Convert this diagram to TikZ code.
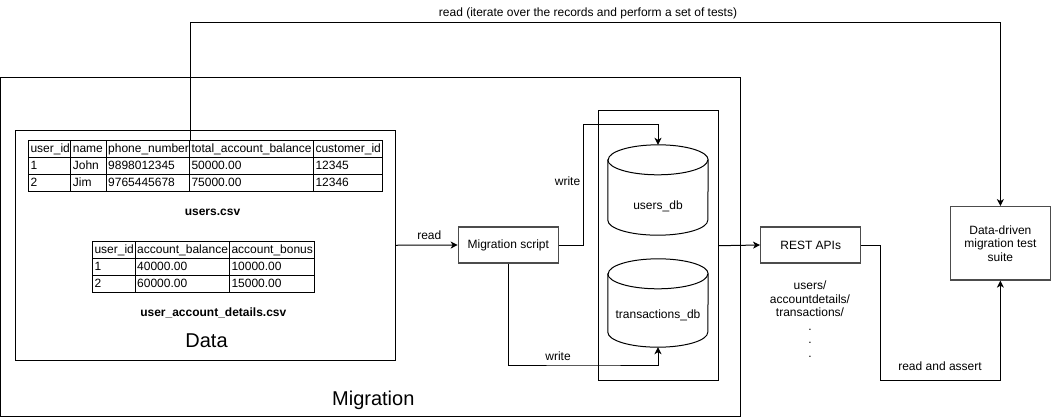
\documentclass[tikz,border=0pt]{standalone}
\usepackage{fontspec}
\setmainfont{Liberation Sans}
\usetikzlibrary{arrows.meta}
\newcommand\drawcyl[1]{%
  \draw[line width=1pt, fill=white] ([yshift=-15pt]#1.north west) -- ([yshift=15pt]#1.south west)
    arc[start angle=180,end angle=360,x radius=50pt,y radius=15pt]
    -- ([yshift=-15pt]#1.north east)
    arc[start angle=0,end angle=180,x radius=50pt,y radius=15pt] -- cycle;
  \draw[line width=1pt] ([yshift=-15pt]#1.north west)
    arc[start angle=180,end angle=360,x radius=50pt,y radius=15pt];}
\begin{document}
\begin{tikzpicture}[x=1pt,y=-1pt,
  txt/.style={inner sep=0, text height=8.6pt, text depth=0pt, font=\fontsize{12}{14}\selectfont},
  btxt/.style={txt, font=\fontsize{12}{14}\selectfont\bfseries},
  big/.style={inner sep=0, text height=14.3pt, text depth=0pt, font=\fontsize{20}{24}\selectfont},
  cell/.style={txt, anchor=west},
  frame/.style={draw, line width=1pt, inner sep=0},
  gbox/.style={draw=black!70, line width=1.3pt, fill=white, inner sep=0, align=center,
     font=\fontsize{12}{13.6}\selectfont},
  arr/.style={line width=1pt, -{Stealth[length=7pt,width=7pt,inset=2pt]}},
  ln/.style={line width=1pt}]
\useasboundingbox (0,0) rectangle (1051,418);

% containers
\node[frame, minimum width=739.5pt, minimum height=339.5pt] (mig) at (370.25,247.05) {};
\node[frame, minimum width=380pt, minimum height=229.5pt] (data) at (205.7,245.25) {};
\node[frame, minimum width=120pt, minimum height=270pt] (dbc) at (658.3,245.7) {};

% table 1
\node[frame, minimum width=354pt, minimum height=51pt] (t1) at (205.3,165.5) {};
\foreach \y in {157,174} \draw[ln] (28.3,\y) -- (382.3,\y);
\foreach \x in {70.7,106,189.3,313.3} \draw[ln] (\x,140) -- (\x,191);
\foreach \x/\t [count=\i] in {30.3/user\_id, 72.7/name, 108/phone\_number, 191.3/total\_account\_balance, 315.3/customer\_id}
  \node[cell] (ha\i) at (\x,148.5) {\t};
\foreach \x/\t [count=\i] in {30.3/1, 72.7/John, 108/9898012345, 191.3/50000.00, 315.3/12345}
  \node[cell] (ra\i) at (\x,165.5) {\t};
\foreach \x/\t [count=\i] in {30.3/2, 72.7/Jim, 108/9765445678, 191.3/75000.00, 315.3/12346}
  \node[cell] (sa\i) at (\x,182.5) {\t};
\node[btxt] (t1lbl) at (212.5,211) {users.csv};

% table 2
\node[frame, minimum width=221.7pt, minimum height=51pt] (t2) at (203.15,266.5) {};
\foreach \y in {258,275} \draw[ln] (92.3,\y) -- (314,\y);
\foreach \x in {135,229.3} \draw[ln] (\x,241) -- (\x,292);
\foreach \x/\t [count=\i] in {94.3/user\_id, 137/account\_balance, 231.3/account\_bonus}
  \node[cell] (hb\i) at (\x,249.5) {\t};
\foreach \x/\t [count=\i] in {94.3/1, 137/40000.00, 231.3/10000.00}
  \node[cell] (rb\i) at (\x,266.5) {\t};
\foreach \x/\t [count=\i] in {94.3/2, 137/60000.00, 231.3/15000.00}
  \node[cell] (sb\i) at (\x,283.5) {\t};
\node[btxt] (t2lbl) at (213.3,311.7) {user\_account\_details.csv};

\node[big] (datalbl) at (206.5,340) {Data};
\node[big] (miglbl) at (373.3,398.3) {Migration};

% boxes
\node[gbox, minimum width=100pt, minimum height=36pt] (ms) at (508.3,245) {Migration script};
\node[gbox, minimum width=100pt, minimum height=36pt] (rest) at (810.7,245) {REST APIs};
\node[gbox, minimum width=99.8pt, minimum height=73.3pt] (suite) at (1000.4,243.35)
  {Data-driven\\migration test\\suite};

% cylinders
\node[inner sep=0, minimum width=100pt, minimum height=90pt] (udb) at (658,190) {};
\drawcyl{udb}
\node[txt] (udblbl) at (658,205) {users\_db};
\node[inner sep=0, minimum width=100pt, minimum height=88pt] (tdb) at (658,303) {};
\drawcyl{tdb}
\node[txt] (tdblbl) at (658,314) {transactions\_db};

% api list
\node[inner sep=0, align=center, font=\fontsize{12}{13.5}\selectfont] (apis) at (810,319)
  {users/\\accountdetails/\\transactions/\\.\\.\\.};

% connectors
\coordinate (rd0) at (190.7,140);
\coordinate (rd1) at (190.7,22.3);
\draw[arr] (rd0) -- (rd1) -| (suite.north);
\node[txt] (toplbl) at (588,12.5) {read (iterate over the records and perform a set of tests)};

\draw[arr] (data.east) -- (ms.west);
\node[txt] (readlbl) at (429.3,235) {read};

\coordinate (w1) at (583.3,124.3);
\draw[arr] (ms.east) -| (w1) -| (udb.north);
\node[txt] (w1lbl) at (567.5,180.7) {write};

\coordinate (w2) at (583.3,365);
\draw[arr] (ms.south) |- (w2) -| (tdb.south);
\node[txt] (w2lbl) at (558,356) {write};

\draw[arr] (dbc.east) -- (rest.west);

\coordinate (w3) at (880.7,380);
\draw[arr] (rest.east) -| (w3) -| (suite.south);
\node[txt] (ralbl) at (940,366) {read and assert};
\end{tikzpicture}
\end{document}
